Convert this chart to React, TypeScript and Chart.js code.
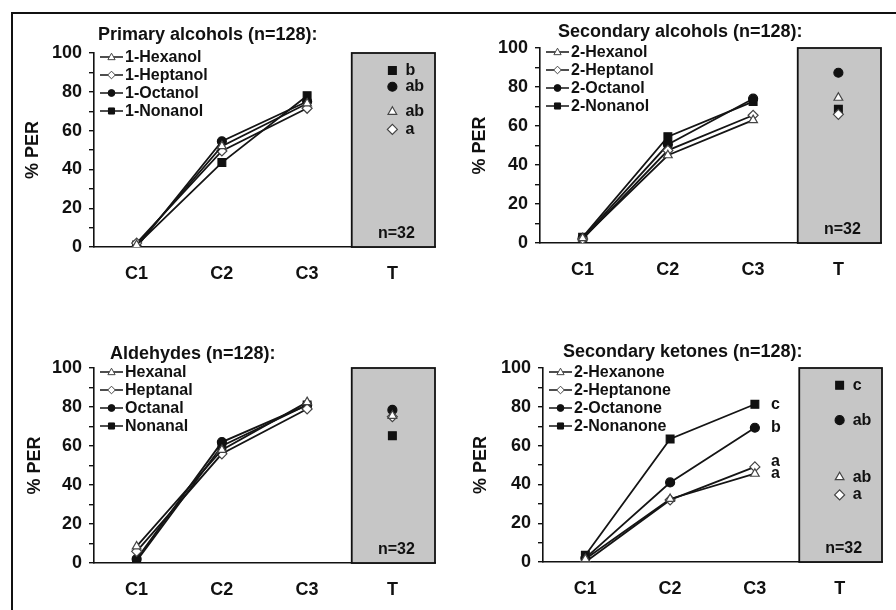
import React, { useEffect, useRef } from "react";
import { Chart, registerables } from "chart.js";

Chart.register(...registerables);

const FONT = "'Liberation Sans', Arial, sans-serif";

// ---------- data ----------
const categories = ["C1", "C2", "C3", "T"];
const tickLabelsY = [0, 20, 40, 60, 80, 100];
const groupN = "n=32";

// Panel 1: Primary alcohols
const primaryTitle = "Primary alcohols (n=128):";
const primaryNames = ["1-Hexanol", "1-Heptanol", "1-Octanol", "1-Nonanol"];
const hexanol1 = [1, 52, 74, 69.7];
const heptanol1 = [2, 49.5, 71.5, 60.6];
const octanol1 = [0, 54.5, 75, 82.6];
const nonanol1 = [1, 43.5, 78, 91];
const primaryTLetters = ["ab", "a", "ab", "b"];

// Panel 2: Secondary alcohols
const secAlcTitle = "Secondary alcohols (n=128):";
const secAlcNames = ["2-Hexanol", "2-Heptanol", "2-Octanol", "2-Nonanol"];
const hexanol2 = [2.5, 45, 63, 74.5];
const heptanol2 = [2, 47.5, 65.5, 66];
const octanol2 = [2.5, 50.5, 74, 87.3];
const nonanol2 = [3, 54.5, 72.5, 68.6];

// Panel 3: Aldehydes
const aldTitle = "Aldehydes (n=128):";
const aldNames = ["Hexanal", "Heptanal", "Octanal", "Nonanal"];
const hexanal = [8.5, 58, 82.5, 75.5];
const heptanal = [6, 56, 79, 75];
const octanal = [2, 62, 81, 78.5];
const nonanal = [1, 60, 81, 65.3];

// Panel 4: Secondary ketones
const ketTitle = "Secondary ketones (n=128):";
const ketNames = ["2-Hexanone", "2-Heptanone", "2-Octanone", "2-Nonanone"];
const hexanone = [1.5, 32.5, 45.5, 43.7];
const heptanone = [0, 32, 49, 34.6];
const octanone = [2, 41, 69.2, 73.1];
const nonanone = [3.5, 63.4, 81.3, 91.1];
const ketC3Letters = ["a", "a", "b", "c"];
const ketTLetters = ["ab", "a", "ab", "c"];

// ---------- styles ----------
const markerStyles = ["triangle", "diamond", "circle", "square"];
const markerFill = ["#ffffff", "#ffffff", "#111111", "#111111"];
const markerStroke = ["#444444", "#444444", "#111111", "#111111"];
const chartPointStyle: any = { triangle: "triangle", diamond: "rectRot", circle: "circle", square: "rect" };
const chartPointRadius: any = { triangle: 5, diamond: 5, circle: 4.5, square: 5.5 };

type PanelSpec = {
  title: string;
  names: string[];
  series: number[][];
  tLetters?: string[];
  c3Letters?: string[];
};

type PanelLayout = {
  x: number;
  y: number;
  w: number;
  h: number;
  l: number;
  r: number;
  t: number;
  b: number;
  titleX: number;
  titleY: number;
  yLabelX: number;
};

const panels: PanelSpec[] = [
  { title: primaryTitle, names: primaryNames, series: [hexanol1, heptanol1, octanol1, nonanol1], tLetters: primaryTLetters },
  { title: secAlcTitle, names: secAlcNames, series: [hexanol2, heptanol2, octanol2, nonanol2] },
  { title: aldTitle, names: aldNames, series: [hexanal, heptanal, octanal, nonanal] },
  { title: ketTitle, names: ketNames, series: [hexanone, heptanone, octanone, nonanone], tLetters: ketTLetters, c3Letters: ketC3Letters },
];

const layouts: PanelLayout[] = [
  { x: 0, y: 0, w: 448, h: 305, l: 94, r: 435, t: 53, b: 247, titleX: 98, titleY: 35, yLabelX: 33 },
  { x: 448, y: 0, w: 448, h: 305, l: 92, r: 433, t: 48, b: 243, titleX: 110, titleY: 32, yLabelX: 32 },
  { x: 0, y: 305, w: 448, h: 305, l: 94, r: 435, t: 63, b: 258, titleX: 110, titleY: 49, yLabelX: 35 },
  { x: 448, y: 305, w: 448, h: 305, l: 95, r: 434, t: 63, b: 257, titleX: 115, titleY: 47, yLabelX: 33 },
];

function drawMarker(ctx: CanvasRenderingContext2D, style: string, x: number, y: number, r: number, fill: string, stroke: string) {
  ctx.beginPath();
  if (style === "triangle") {
    ctx.moveTo(x, y - r);
    ctx.lineTo(x + r * 0.95, y + r * 0.7);
    ctx.lineTo(x - r * 0.95, y + r * 0.7);
    ctx.closePath();
  } else if (style === "diamond") {
    ctx.moveTo(x, y - r);
    ctx.lineTo(x + r, y);
    ctx.lineTo(x, y + r);
    ctx.lineTo(x - r, y);
    ctx.closePath();
  } else if (style === "circle") {
    ctx.arc(x, y, r * 0.9, 0, Math.PI * 2);
  } else {
    ctx.rect(x - r * 0.8, y - r * 0.8, r * 1.6, r * 1.6);
  }
  ctx.fillStyle = fill;
  ctx.fill();
  ctx.lineWidth = 1;
  ctx.strokeStyle = stroke;
  ctx.stroke();
}

function placeLetters(items: { y: number; text: string }[], gap: number) {
  const sorted = [...items].sort((a, b) => b.y - a.y); // bottom first
  for (let i = 1; i < sorted.length; i++) {
    if (sorted[i - 1].y - sorted[i].y < gap) {
      sorted[i].y = sorted[i - 1].y - gap;
    }
  }
  return sorted;
}

function PanelChart({ spec, layout }: { spec: PanelSpec; layout: PanelLayout }) {
  const ref = useRef<HTMLCanvasElement>(null);

  useEffect(() => {
    const canvas = ref.current;
    if (!canvas) return;

    const decor = {
      id: "panelDecor",
      beforeDatasetsDraw(chart: any) {
        const { ctx, chartArea, scales } = chart;
        const x = scales.x;
        const band = x.getPixelForValue(1) - x.getPixelForValue(0);
        const boxL = x.getPixelForValue(3) - band / 2 + 2;
        ctx.save();
        ctx.fillStyle = "#c6c6c6";
        ctx.fillRect(boxL, chartArea.top, chartArea.right - boxL, chartArea.bottom - chartArea.top);
        ctx.lineWidth = 1.8;
        ctx.strokeStyle = "#111";
        ctx.strokeRect(boxL, chartArea.top, chartArea.right - boxL, chartArea.bottom - chartArea.top);
        ctx.fillStyle = "#111";
        ctx.font = `bold 16px ${FONT}`;
        ctx.textAlign = "center";
        ctx.textBaseline = "middle";
        ctx.fillText(groupN, x.getPixelForValue(3) + 4, chartArea.bottom - 13);
        ctx.restore();
      },
      afterDraw(chart: any) {
        const { ctx, chartArea, scales } = chart;
        const x = scales.x;
        const y = scales.y;
        ctx.save();
        // title
        ctx.fillStyle = "#111";
        ctx.font = `bold 18px ${FONT}`;
        ctx.textAlign = "left";
        ctx.textBaseline = "middle";
        ctx.fillText(spec.title, layout.titleX, layout.titleY);
        // y axis label
        ctx.save();
        ctx.translate(layout.yLabelX, (chartArea.top + chartArea.bottom) / 2);
        ctx.rotate(-Math.PI / 2);
        ctx.textAlign = "center";
        ctx.textBaseline = "middle";
        ctx.font = `bold 18px ${FONT}`;
        ctx.fillText("% PER", 0, 0);
        ctx.restore();
        // legend
        spec.names.forEach((name, i) => {
          const ly = chartArea.top + 4 + i * 18;
          const lx0 = chartArea.left + 6;
          const lx1 = chartArea.left + 29;
          ctx.beginPath();
          ctx.moveTo(lx0, ly);
          ctx.lineTo(lx1, ly);
          ctx.lineWidth = 1.6;
          ctx.strokeStyle = "#222";
          ctx.stroke();
          drawMarker(ctx, markerStyles[i], (lx0 + lx1) / 2, ly, 3.8, markerFill[i], markerStroke[i]);
          ctx.fillStyle = "#111";
          ctx.font = `bold 16px ${FONT}`;
          ctx.textAlign = "left";
          ctx.textBaseline = "middle";
          ctx.fillText(name, lx1 + 2, ly + 1);
        });
        // letters
        ctx.font = `bold 16px ${FONT}`;
        ctx.fillStyle = "#111";
        ctx.textAlign = "left";
        ctx.textBaseline = "middle";
        if (spec.tLetters) {
          const items = spec.series.map((s, i) => ({ y: y.getPixelForValue(s[3]), text: spec.tLetters![i] }));
          placeLetters(items, 12).forEach((it) => ctx.fillText(it.text, x.getPixelForValue(3) + 13, it.y));
        }
        if (spec.c3Letters) {
          const items = spec.series.map((s, i) => ({ y: y.getPixelForValue(s[2]), text: spec.c3Letters![i] }));
          placeLetters(items, 12).forEach((it) => ctx.fillText(it.text, x.getPixelForValue(2) + 16, it.y));
        }
        ctx.restore();
      },
    };

    const datasets = spec.series.map((vals, i) => {
      const st = markerStyles[i];
      return {
        label: spec.names[i],
        data: vals,
        borderColor: "#151515",
        borderWidth: 1.8,
        pointStyle: chartPointStyle[st],
        pointRadius: chartPointRadius[st],
        pointBackgroundColor: markerFill[i],
        pointBorderColor: markerStroke[i],
        pointBorderWidth: 1.2,
        fill: false,
        tension: 0,
        segment: {
          borderColor: (c: any) => (c.p1DataIndex === 3 ? "rgba(0,0,0,0)" : "#151515"),
        },
      };
    });

    const chart = new Chart(canvas, {
      type: "line",
      data: { labels: categories, datasets: datasets as any },
      options: {
        responsive: false,
        animation: false,
        layout: {
          padding: { left: 0, top: layout.t, right: layout.w - layout.r, bottom: 0 },
        },
        plugins: {
          legend: { display: false },
          tooltip: { enabled: false },
        },
        scales: {
          x: {
            type: "category",
            offset: true,
            grid: { display: false },
            border: { display: true, color: "#111", width: 1.6 },
            ticks: {
              color: "#111",
              font: { family: FONT, size: 18, weight: "bold" },
              padding: 8,
              autoSkip: false,
              maxRotation: 0,
            },
            afterFit: (scale: any) => {
              scale.height = layout.h - layout.b;
            },
          },
          y: {
            min: 0,
            max: 100,
            grid: { drawOnChartArea: false, drawTicks: true, tickLength: 5, color: "#111", lineWidth: 1.4 },
            border: { display: true, color: "#111", width: 1.6 },
            ticks: {
              stepSize: 10,
              color: "#111",
              font: { family: FONT, size: 18, weight: "bold" },
              padding: 7,
              autoSkip: false,
              callback: (v: any) => (tickLabelsY.includes(Number(v)) ? String(v) : ""),
            },
            afterFit: (scale: any) => {
              scale.width = layout.l;
            },
          },
        },
      } as any,
      plugins: [decor],
    });

    return () => chart.destroy();
  }, [spec, layout]);

  return (
    <canvas
      ref={ref}
      width={layout.w}
      height={layout.h}
      style={{ position: "absolute", left: layout.x, top: layout.y, width: layout.w, height: layout.h }}
    />
  );
}

export default function App() {
  return (
    <div style={{ position: "absolute", left: 0, top: 0, width: 896, height: 610, background: "#fff", overflow: "hidden" }}>
      <div
        style={{
          position: "absolute",
          left: 11,
          top: 12,
          right: 0,
          bottom: 0,
          borderTop: "2px solid #111",
          borderLeft: "2px solid #111",
        }}
      />
      {panels.map((p, i) => (
        <PanelChart key={i} spec={p} layout={layouts[i]} />
      ))}
    </div>
  );
}
